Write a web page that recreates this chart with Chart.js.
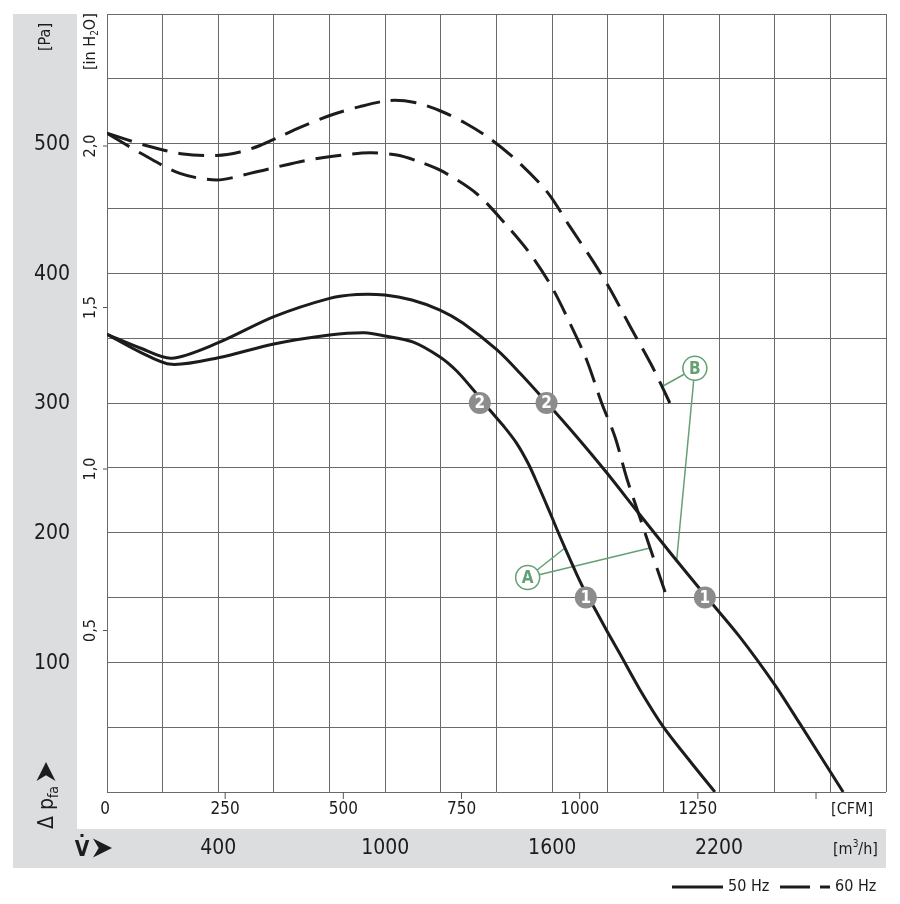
<!DOCTYPE html>
<html lang="ru">
<head>
    <meta charset="UTF-8">
    <title>Fan curve</title>
    <style>
        body {
            margin: 0;
            background: #ffffff;
        }
        #wrap {
            width: 900px;
            height: 904px;
        }
    </style>
    <script src="https://cdn.jsdelivr.net/npm/chart.js"></script>
</head>
<body>
    <div id="wrap">
        <canvas id="fanChart" width="900" height="904"></canvas>
    </div>

    <script>
        // flow in m3/h, pressure in Pa
        const flow50a = [0, 119, 232, 400, 600, 800, 898, 999, 1096, 1197, 1279, 1402, 1484, 1581, 1689, 1797, 1916, 2034, 2149, 2275, 2401, 2491, 2646];
        const pres50a = [353, 342.4, 334.5, 346.5, 366.6, 380.7, 383.7, 383.3, 379.4, 371.7, 361.7, 340.9, 323.1, 300.2, 273.8, 246, 213.6, 182, 151.9, 119.5, 82.5, 52.5, 0];

        const flow50b = [0, 119, 232, 400, 600, 800, 927, 1000, 1101, 1197, 1257, 1305, 1341, 1376, 1424, 1472, 1514, 1550, 1586, 1616, 1646, 1688, 1721, 1754, 1797, 1844, 1916, 1999, 2095, 2185];
        const pres50b = [353, 339.3, 329.8, 334.9, 345.5, 352.4, 354.2, 351.7, 347, 335.5, 324.7, 313.1, 303.8, 294.6, 282.6, 269.1, 253.3, 236.4, 218.6, 203.2, 188.2, 168.1, 153.5, 141.1, 124.2, 106.4, 78.7, 50.4, 23.9, 0];

        const flow60a = [0, 143, 274, 394, 478, 550, 622, 694, 801, 909, 1017, 1107, 1199, 1287, 1375, 1484, 1586, 1664, 1748, 1808, 1880, 1963, 2023];
        const pres60a = [508, 498.4, 492, 490.9, 493.6, 498.6, 505.5, 512.5, 521.7, 528.6, 533.3, 531.7, 525.2, 515.9, 504.1, 484.8, 461.7, 436, 409, 387.9, 359.2, 326.8, 300];

        const flow60b = [0, 130, 262, 394, 514, 694, 819, 945, 1042, 1125, 1208, 1330, 1430, 1520, 1598, 1664, 1724, 1778, 1826, 1868, 1916, 1952, 2006];
        const pres60b = [508, 491.6, 477.1, 472, 477.1, 486.1, 490.5, 493, 491.2, 485.9, 478.4, 461.2, 438.6, 415.4, 389.7, 361.5, 333.2, 300, 273.8, 242.2, 211.3, 188.2, 154.2];

        // numbered points on the 50 Hz curves
        const pointNo = ['2', '2', '1', '1'];
        const pointFlow = [1340, 1580, 1721, 2149];
        const pointPres = [300, 300, 150, 150];

        // A / B callouts: label position and the curve points they mark
        const calloutName = ['A', 'B'];
        const calloutFlow = [1512, 2113];
        const calloutPres = [165.4, 326.8];
        const calloutTargetFlow = [[1646, 1952], [1999, 2047]];
        const calloutTargetPres = [[188.2, 188.2], [313.1, 177.6]];

        // axis labels
        const paTicks = [100, 200, 300, 400, 500];
        const inh2oTicks = [0.5, 1.0, 1.5, 2.0];
        const cfmTicks = [0, 250, 500, 750, 1000, 1250, 1500];
        const cfmLabels = ['0', '250', '500', '750', '1000', '1250', ''];
        const m3hLabels = [400, 1000, 1600, 2200];

        const PA_PER_INH2O = 249.089;
        const M3H_PER_CFM = 1.699;

        const toPts = (xs, ys) => xs.map((x, i) => ({ x: x, y: ys[i] }));

        const FONT = "'Liberation Sans Narrow', 'DejaVu Sans Condensed', 'Arial Narrow', sans-serif";
        const GREEN = '#64a074';
        const INK = '#1c1c1c';

        const arrowHead = (ctx, x, y, size) => {
            // arrowhead pointing to +x, tip at x + size
            ctx.beginPath();
            ctx.moveTo(x + size, y);
            ctx.lineTo(x, y - size * 0.5);
            ctx.lineTo(x + size * 0.3, y);
            ctx.lineTo(x, y + size * 0.5);
            ctx.closePath();
            ctx.fill();
        };

        const decor = {
            id: 'decor',
            beforeDraw(chart) {
                const ctx = chart.ctx;
                ctx.save();
                ctx.fillStyle = '#ffffff';
                ctx.fillRect(0, 0, chart.width, chart.height);
                ctx.fillStyle = '#dcdddf';
                ctx.fillRect(13, 14, 64, 854);
                ctx.fillRect(13, 829, 873, 39);
                ctx.restore();
            },
            afterDatasetsDraw(chart) {
                const ctx = chart.ctx;
                const xs = chart.scales.x;
                const ys = chart.scales.y;
                ctx.save();
                ctx.textAlign = 'center';
                ctx.textBaseline = 'middle';

                pointNo.forEach((n, i) => {
                    const px = xs.getPixelForValue(pointFlow[i]);
                    const py = ys.getPixelForValue(pointPres[i]);
                    ctx.fillStyle = '#8c8c8c';
                    ctx.beginPath();
                    ctx.arc(px, py, 11, 0, Math.PI * 2);
                    ctx.fill();
                    ctx.fillStyle = '#ffffff';
                    ctx.font = 'bold 17px ' + FONT;
                    ctx.fillText(n, px, py + 1);
                });

                calloutName.forEach((n, i) => {
                    const px = xs.getPixelForValue(calloutFlow[i]);
                    const py = ys.getPixelForValue(calloutPres[i]);
                    ctx.fillStyle = '#ffffff';
                    ctx.strokeStyle = GREEN;
                    ctx.lineWidth = 1.5;
                    ctx.beginPath();
                    ctx.arc(px, py, 12, 0, Math.PI * 2);
                    ctx.fill();
                    ctx.stroke();
                    ctx.fillStyle = GREEN;
                    ctx.font = 'bold 17px ' + FONT;
                    ctx.fillText(n, px, py + 1);
                });
                ctx.restore();
            },
            afterDraw(chart) {
                const ctx = chart.ctx;
                const xs = chart.scales.x;
                const ys = chart.scales.y;
                const bottom = chart.chartArea.bottom;
                const left = chart.chartArea.left;
                ctx.save();
                ctx.fillStyle = INK;
                ctx.strokeStyle = '#555555';
                ctx.lineWidth = 1;

                // Pa labels
                ctx.font = '21px ' + FONT;
                ctx.textAlign = 'right';
                ctx.textBaseline = 'middle';
                paTicks.forEach(v => {
                    ctx.fillText(String(v), 70, ys.getPixelForValue(v) + 1);
                });

                // in H2O ticks and labels
                ctx.font = '16px ' + FONT;
                ctx.textAlign = 'center';
                inh2oTicks.forEach(v => {
                    const py = ys.getPixelForValue(v * PA_PER_INH2O);
                    ctx.beginPath();
                    ctx.moveTo(left - 4, py);
                    ctx.lineTo(left, py);
                    ctx.stroke();
                    ctx.save();
                    ctx.translate(91, py);
                    ctx.rotate(-Math.PI / 2);
                    ctx.fillText(v.toFixed(1).replace('.', ','), 0, 0);
                    ctx.restore();
                });

                // unit labels on the left
                ctx.save();
                ctx.translate(46, 37);
                ctx.rotate(-Math.PI / 2);
                ctx.font = '16px ' + FONT;
                ctx.fillText('[Pa]', 0, 0);
                ctx.restore();

                ctx.save();
                ctx.translate(91, 47);
                ctx.rotate(-Math.PI / 2);
                ctx.font = '16px ' + FONT;
                ctx.textAlign = 'left';
                let tx = -23;
                ctx.fillText('[in H', tx, 0);
                tx += ctx.measureText('[in H').width;
                ctx.font = '10px ' + FONT;
                ctx.fillText('2', tx, 4);
                tx += ctx.measureText('2').width;
                ctx.font = '16px ' + FONT;
                ctx.fillText('O]', tx, 0);
                ctx.restore();

                // delta p_fa with arrow
                ctx.save();
                ctx.translate(53, 829);
                ctx.rotate(-Math.PI / 2);
                ctx.textAlign = 'left';
                ctx.textBaseline = 'alphabetic';
                ctx.font = '21px ' + FONT;
                let dx = 0;
                ctx.fillText('\u0394', dx, 0);
                dx += ctx.measureText('\u0394 ').width;
                ctx.fillText('p', dx, 0);
                dx += ctx.measureText('p').width;
                ctx.font = '14px ' + FONT;
                ctx.fillText('fa', dx, 5);
                dx += ctx.measureText('fa').width + 5;
                arrowHead(ctx, dx, -7, 19);
                ctx.restore();

                // V dot with arrow
                ctx.font = 'bold 21px ' + FONT;
                ctx.textAlign = 'center';
                ctx.textBaseline = 'alphabetic';
                ctx.fillText('V', 82, 856);
                ctx.fillRect(80.5, 834, 3, 3);
                arrowHead(ctx, 93, 848, 19);

                // CFM ticks and labels
                ctx.font = '17px ' + FONT;
                ctx.textBaseline = 'middle';
                cfmTicks.forEach((c, i) => {
                    const px = xs.getPixelForValue(c * M3H_PER_CFM);
                    if (c > 0) {
                        ctx.beginPath();
                        ctx.moveTo(px, bottom);
                        ctx.lineTo(px, bottom + 7);
                        ctx.stroke();
                    }
                    if (cfmLabels[i]) {
                        ctx.fillText(cfmLabels[i], c === 0 ? px - 2 : px, 810);
                    }
                });
                ctx.textAlign = 'right';
                ctx.font = '16px ' + FONT;
                ctx.fillText('[CFM]', 873, 810);

                // m3/h labels
                ctx.textAlign = 'center';
                ctx.font = '21px ' + FONT;
                m3hLabels.forEach(v => {
                    ctx.fillText(String(v), xs.getPixelForValue(v), 849);
                });
                ctx.textAlign = 'left';
                ctx.font = '16px ' + FONT;
                let ux = 833;
                ctx.fillText('[m', ux, 850);
                ux += ctx.measureText('[m').width;
                ctx.font = '10px ' + FONT;
                ctx.fillText('3', ux, 844);
                ux += ctx.measureText('3').width;
                ctx.font = '16px ' + FONT;
                ctx.fillText('/h]', ux, 850);

                // legend
                ctx.strokeStyle = INK;
                ctx.lineWidth = 3;
                ctx.beginPath();
                ctx.moveTo(672, 887);
                ctx.lineTo(723, 887);
                ctx.moveTo(780, 887);
                ctx.lineTo(810, 887);
                ctx.moveTo(820, 887);
                ctx.lineTo(830, 887);
                ctx.stroke();
                ctx.font = '16px ' + FONT;
                ctx.textAlign = 'left';
                ctx.fillText('50 Hz', 728, 887);
                ctx.fillText('60 Hz', 835, 887);

                ctx.restore();
            }
        };

        const curve = (data, dashed) => ({
            data: data,
            showLine: true,
            borderColor: INK,
            borderWidth: 3,
            borderDash: dashed ? [26, 11] : [],
            pointRadius: 0,
            tension: 0.3,
            fill: false
        });

        const callout = (i, j) => ({
            data: [
                { x: calloutFlow[i], y: calloutPres[i] },
                { x: calloutTargetFlow[i][j], y: calloutTargetPres[i][j] }
            ],
            showLine: true,
            borderColor: GREEN,
            borderWidth: 1.5,
            pointRadius: 0,
            tension: 0
        });

        new Chart(document.getElementById('fanChart').getContext('2d'), {
            type: 'scatter',
            data: {
                datasets: [
                    curve(toPts(flow50a, pres50a), false),
                    curve(toPts(flow50b, pres50b), false),
                    curve(toPts(flow60a, pres60a), true),
                    curve(toPts(flow60b, pres60b), true),
                    callout(0, 0), callout(0, 1),
                    callout(1, 0), callout(1, 1)
                ]
            },
            options: {
                responsive: false,
                animation: false,
                layout: { padding: { left: 107, top: 14, right: 14, bottom: 112 } },
                plugins: {
                    legend: { display: false },
                    tooltip: { enabled: false }
                },
                scales: {
                    x: {
                        type: 'linear',
                        min: 0,
                        max: 2800,
                        ticks: { display: false, stepSize: 200 },
                        grid: { color: '#6a6a6a', lineWidth: 1, drawTicks: false },
                        border: { display: false }
                    },
                    y: {
                        type: 'linear',
                        min: 0,
                        max: 600,
                        ticks: { display: false, stepSize: 50 },
                        grid: { color: '#6a6a6a', lineWidth: 1, drawTicks: false },
                        border: { display: false }
                    }
                }
            },
            plugins: [decor]
        });
    </script>
</body>
</html>
